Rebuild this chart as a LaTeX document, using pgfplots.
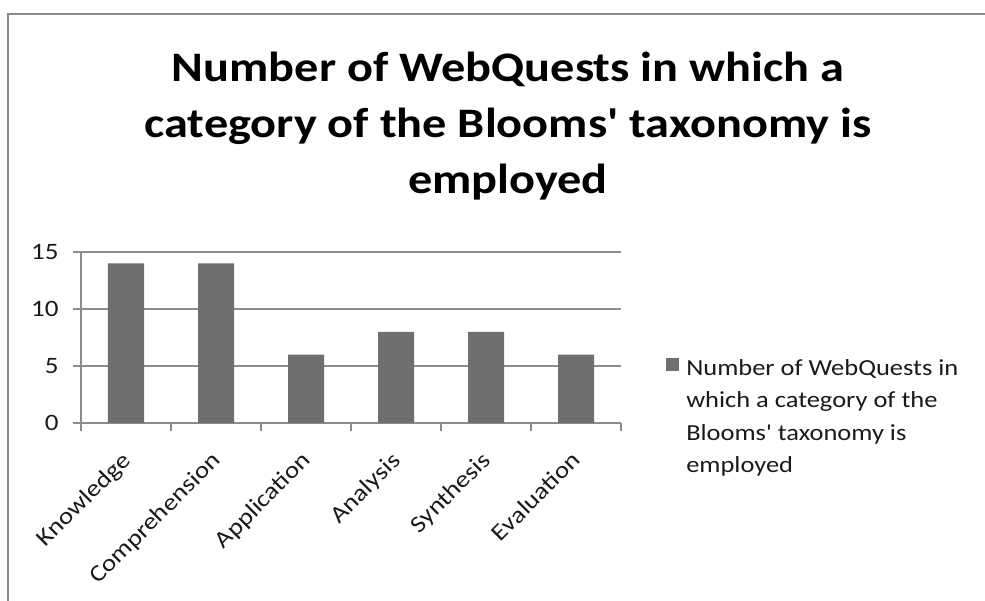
\documentclass[border=0pt]{standalone}
\usepackage{pgfplots}
\pgfplotsset{compat=1.18}
\usepackage{fontspec}
\setmainfont{Carlito}[FakeStretch=1.15]
\newfontfamily\carlito{Carlito}[FakeStretch=1.15]
\definecolor{barc}{HTML}{6F6F6F}
\definecolor{gridc}{HTML}{8C8C8C}
\definecolor{framec}{HTML}{8A8A8A}
\definecolor{txt}{HTML}{1A1A1A}
\begin{document}
\carlito
\begin{tikzpicture}
\path[use as bounding box] (0,0) rectangle (985pt,601pt);
\draw[framec, line width=1.5pt] (8pt,0pt) -- (8pt,587pt) -- (985pt,587pt);
\node[font=\carlito\bfseries\fontsize{42}{56}\selectfont, align=center, anchor=north, inner sep=0pt, text=black] at (508pt,549pt)
  {Number of WebQuests in which a\\category of the Blooms' taxonomy is\\employed};
\begin{axis}[
  at={(81pt,178pt)}, anchor=south west,
  scale only axis, width=540pt, height=171pt,
  xmin=-0.5, xmax=5.5, ymin=0, ymax=15,
  ybar, bar width=36pt,
  ytick={0,5,10,15},
  xtick={0,...,5},
  xticklabels={Knowledge,Comprehension,Application,Analysis,Synthesis,Evaluation},
  minor xtick={-0.5,0.5,...,5.5},
  axis lines=left, axis line style={-, draw=gridc, line width=1.3pt},
  ymajorgrids, grid style={draw=gridc, line width=1.3pt},
  tick align=outside,
  major tick length=8pt, minor tick length=8pt,
  major x tick style={draw=none},
  minor x tick style={draw=gridc, line width=1.3pt},
  y tick style={draw=gridc, line width=1.3pt},
  /pgf/number format/assume math mode=true,
  tick label style={font=\carlito\fontsize{23.5}{27}\selectfont, text=txt},
  yticklabel style={anchor=east, xshift=-11pt},
  xticklabel style={xshift=-6pt, yshift=-19pt, rotate=45, anchor=north east, inner sep=0pt},
  legend style={at={(1.0835,0.385)}, anchor=north west, draw=none, fill=none,
    font=\carlito\fontsize{23}{32.5}\selectfont, inner sep=0pt, text=txt},
  legend cell align=left,
  legend image code/.code={\fill[barc] (0pt,-3pt) rectangle (13pt,10pt); \path (18pt,0pt);},
]
\addplot[fill=barc, draw=none] coordinates {(0,14) (1,14) (2,6) (3,8) (4,8) (5,6)};
\addlegendentry{\parbox[t]{300pt}{\raggedright Number of WebQuests in\\which a category of the\\Blooms' taxonomy is\\employed}}
\end{axis}
\end{tikzpicture}
\end{document}
